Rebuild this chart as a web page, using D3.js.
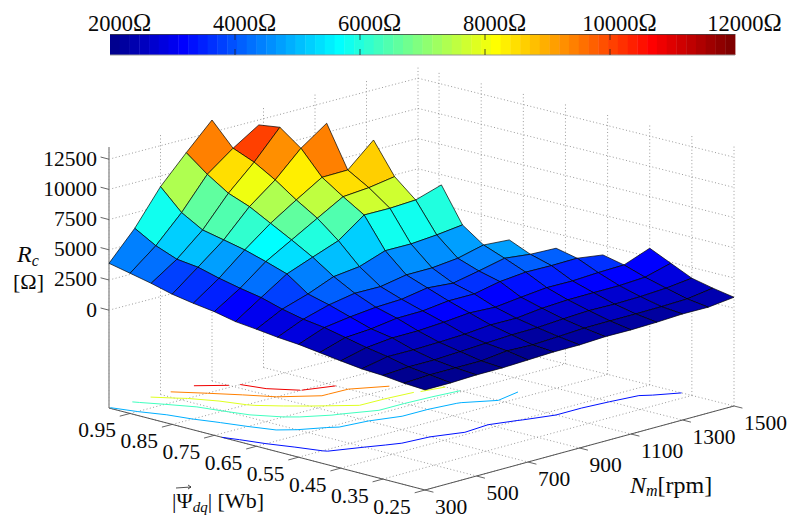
<!DOCTYPE html>
<html><head><meta charset="utf-8">
<script src="https://cdn.jsdelivr.net/npm/d3@7/dist/d3.min.js"></script>
<style>html,body{margin:0;padding:0;background:#fff}svg{display:block}text{font-family:"Liberation Serif",serif;fill:#0a0a0a}</style>
</head><body><svg id="c" width="794" height="518"></svg>
<script>
// speed samples (rpm)
const rpmValues = [300,400,500,600,700,800,900,1000,1100,1200,1300,1400,1500];
// flux samples (Wb), one row of resistance per flux value
const fluxValues = [1.00,0.95,0.90,0.85,0.80,0.75,0.70,0.65,0.60,0.55,0.50,0.45,0.40,0.35,0.30,0.25];
// Rc (ohm) per flux row, indexed by rpm; rows end where the operating range ends
const rcFlux100 = [3880,6220,9110,11360,13510];
const rcFlux095 = [3510,5230,7410,10020,11620,12990];
const rcFlux090 = [3130,4560,6420,8900,10910,13240];
const rcFlux085 = [2680,4350,6050,8240,9890,11950,13460];
const rcFlux080 = [2380,3890,5670,7310,8680,9990,10030,11950];
const rcFlux075 = [2140,3510,5150,6380,7610,8830,9010,9360];
const rcFlux070 = [1770,3190,4580,5400,6200,7760,7750,7870,8550];
const rcFlux065 = [1590,2680,3370,4240,4500,5250,5240,5420,5680];
const rcFlux060 = [1380,2300,2920,3310,3290,3690,3700,3930,4460,4310];
const rcFlux055 = [1240,2060,2370,2600,2690,3060,2880,3320,3800,3560,3490];
const rcFlux050 = [1010,1680,1830,2140,2170,2430,2430,2880,3090,3060,3100,2800];
const rcFlux045 = [780,1300,1530,1540,1680,1880,1780,2030,2250,2230,2350,2410,3220];
const rcFlux040 = [570,1010,990,1050,1140,1330,1310,1560,1680,1700,1710,1830,2410];
const rcFlux035 = [480,610,610,720,840,950,980,1120,1230,1190,1240,1360,1610];
const rcFlux030 = [290,400,400,400,650,570,680,800,820,820,850,910,1220];
const rcFlux025 = [190,190,270,270,350,435,435,540,520,575,680,660,905];
const rcRows = [rcFlux100,rcFlux095,rcFlux090,rcFlux085,rcFlux080,rcFlux075,rcFlux070,rcFlux065,rcFlux060,rcFlux055,rcFlux050,rcFlux045,rcFlux040,rcFlux035,rcFlux030,rcFlux025];

const rpmTicks = [300,500,700,900,1100,1300,1500];
const fluxTicks = [0.95,0.85,0.75,0.65,0.55,0.45,0.35,0.25];
const rcTicks = [0,2500,5000,7500,10000,12500];
const contourLevels = [2000,4000,6000,8000,10000,12000];
const colorbarTicks = [2000,4000,6000,8000,10000,12000];

const svg = d3.select("#c");
const W = {l:[109,408], b:[418,327], f:[425,490], r:[734,406]};
const uS = d3.scaleLinear().domain([300,1500]).range([0,1]);
const vS = d3.scaleLinear().domain([1,0.25]).range([0,1]);
const hS = d3.scaleLinear().domain([-8100,13510]).range([0,261]);
const zFloor = -8100, zTop = 13510;
function project(nm,psi,z){
  const u=uS(nm), v=vS(psi);
  const x=(1-u)*(1-v)*W.l[0]+u*(1-v)*W.b[0]+(1-u)*v*W.f[0]+u*v*W.r[0];
  const y=(1-u)*(1-v)*W.l[1]+u*(1-v)*W.b[1]+(1-u)*v*W.f[1]+u*v*W.r[1];
  return [x,y-hS(z)];
}
const line = d3.line();
function jetColor(k){
  const x=k/64, c=t=>Math.round(255*Math.max(0,Math.min(1,t)));
  return d3.rgb(c(Math.min(4*x-1.5,4.5-4*x)),c(Math.min(4*x-.5,3.5-4*x)),c(Math.min(4*x+.5,2.5-4*x))).formatHex();
}
const allZ = rcRows.flat();
const level = d3.scaleQuantize().domain(d3.extent(allZ)).range(d3.range(1,65));

// --- grid
const gGrid = svg.append("g").attr("fill","none").attr("stroke","#8f8f8f").attr("stroke-width",0.9).attr("stroke-dasharray","1 2.4");
const gl = pts => gGrid.append("path").attr("d",line(pts));
rcTicks.forEach(z=>{ gl([project(300,1,z),project(1500,1,z),project(1500,0.25,z)]); });
rpmTicks.forEach(n=>{ gl([project(n,1,zFloor),project(n,1,zTop)]); gl([project(n,1,zFloor),project(n,0.25,zFloor)]); });
fluxTicks.forEach(p=>{ gl([project(1500,p,zFloor),project(1500,p,zTop)]); gl([project(300,p,zFloor),project(1500,p,zFloor)]); });

// --- axes
const gAx = svg.append("g").attr("fill","none");
gAx.append("path").attr("d",line([project(300,1,zFloor),project(300,1,zTop)])).attr("stroke","#a0a0a0").attr("stroke-width",1.6);
gAx.append("path").attr("d",line([project(300,1,zFloor),project(300,0.25,zFloor),project(1500,0.25,zFloor)])).attr("stroke","#555").attr("stroke-width",1);
const gTick = svg.append("g").attr("fill","none").attr("stroke","#555").attr("stroke-width",0.9);
rpmTicks.forEach(n=>{ gTick.append("path").attr("d",line([project(n,0.25,zFloor),project(n,0.25-0.02,zFloor)])); });
fluxTicks.forEach(p=>{ gTick.append("path").attr("d",line([project(300,p,zFloor),project(300-40,p,zFloor)])); });
rcTicks.forEach(z=>{ gTick.append("path").attr("d",line([project(300,1,z),project(300,1+0.02,z)])); });

// --- floor contours (marching squares over the complete cells)
const gCont = svg.append("g").attr("fill","none").attr("stroke-width",1);
const hasCell=(i,j)=>rcRows[j][i]!=null&&rcRows[j][i+1]!=null&&rcRows[j+1]&&rcRows[j+1][i]!=null&&rcRows[j+1][i+1]!=null;
contourLevels.forEach(lv=>{
  const col=jetColor(level(lv));
  for(let j=0;j<fluxValues.length-1;j++)for(let i=0;i<rpmValues.length-1;i++){
    if(!hasCell(i,j))continue;
    const c=[[i,j],[i+1,j],[i+1,j+1],[i,j+1]];
    const cross=[];
    for(let e=0;e<4;e++){
      const a=c[e],b=c[(e+1)%4],za=rcRows[a[1]][a[0]],zb=rcRows[b[1]][b[0]];
      if((za<lv)!==(zb<lv)){
        const t=(lv-za)/(zb-za);
        cross.push(project(rpmValues[a[0]]+t*(rpmValues[b[0]]-rpmValues[a[0]]),fluxValues[a[1]]+t*(fluxValues[b[1]]-fluxValues[a[1]]),zFloor));
      }
    }
    for(let k=0;k+1<cross.length;k+=2)gCont.append("path").attr("d",line([cross[k],cross[k+1]])).attr("stroke",col);
  }
});

// --- surface, painted from the back corner to the front corner
const gS = svg.append("g").attr("stroke","#000").attr("stroke-width",0.7).attr("stroke-linejoin","round");
for(let i=rpmValues.length-2;i>=0;i--)for(let j=0;j<fluxValues.length-1;j++){
  if(!hasCell(i,j))continue;
  const P=(a,b)=>project(rpmValues[a],fluxValues[b],rcRows[b][a]);
  gS.append("path").attr("d",line([P(i,j+1),P(i+1,j+1),P(i+1,j),P(i,j)])+"Z").attr("fill",jetColor(level(rcRows[j+1][i])));
}

// --- tick labels
const txt=(x,y,s,anchor,size)=>svg.append("text").attr("x",x).attr("y",y).attr("text-anchor",anchor).attr("font-size",size).text(s);
rcTicks.forEach(z=>{ const p=project(300,1,z); txt(97,p[1]+6.5,z,"end",21.5); });
fluxTicks.forEach(v=>{ const p=project(300,v,zFloor); txt(p[0]-33,p[1]+23.5,v.toFixed(2),"middle",21.5); });
rpmTicks.forEach(n=>{ const p=project(n,0.25,zFloor); txt(p[0]+10,p[1]+23.5,n,"start",21.5); });

// --- axis titles
const rc=svg.append("text").attr("x",17).attr("y",262).attr("font-size",24).attr("font-style","italic");
rc.append("tspan").text("R"); rc.append("tspan").attr("dy",4).attr("font-size",16).text("c");
txt(13,289,"[Ω]","start",22);
const nm=svg.append("text").attr("x",630).attr("y",493).attr("font-size",24);
nm.append("tspan").attr("font-style","italic").text("N");
nm.append("tspan").attr("font-style","italic").attr("dy",3).attr("font-size",16).text("m");
nm.append("tspan").attr("dy",-3).text("[rpm]");
const ps=svg.append("text").attr("x",172).attr("y",508).attr("font-size",22);
ps.append("tspan").text("|Ψ");
ps.append("tspan").attr("font-style","italic").attr("dy",4).attr("font-size",15).text("dq");
ps.append("tspan").attr("dy",-4).text("| [Wb]");
svg.append("path").attr("fill","none").attr("stroke","#222").attr("stroke-width",0.8).attr("d",line([[176,488],[191,487]])+"M188,485L191,487L188,489");

// --- colour bar
const cbX=d3.scaleLinear().domain([2000,12000]).range([110,735]);
const cbBands=d3.scaleBand().domain(d3.range(1,65)).range([110,735]);
const gB=svg.append("g");
cbBands.domain().forEach(k=>gB.append("rect").attr("x",cbBands(k)).attr("y",34).attr("width",cbBands.bandwidth()+0.4).attr("height",21).attr("fill",jetColor(k)));
gB.append("path").attr("fill","none").attr("stroke","#444").attr("stroke-width",0.8).attr("d",line([[110,34.5],[735,34.5]]));
gB.append("path").attr("fill","none").attr("stroke","#999").attr("stroke-width",1).attr("d",line([[110,55],[735,55]]));
colorbarTicks.forEach(t=>{
  if(t>2000&&t<12000){
    gB.append("path").attr("stroke","#222").attr("stroke-width",0.8).attr("d",line([[cbX(t),34],[cbX(t),40]]));
    gB.append("path").attr("stroke","#222").attr("stroke-width",0.8).attr("d",line([[cbX(t),49],[cbX(t),55]]));
  }
  const lb=txt(cbX(t)+9.5,31,t,"middle",22.5);
  lb.append("tspan").attr("font-size",24.5).text("Ω");
});
</script></body></html>
